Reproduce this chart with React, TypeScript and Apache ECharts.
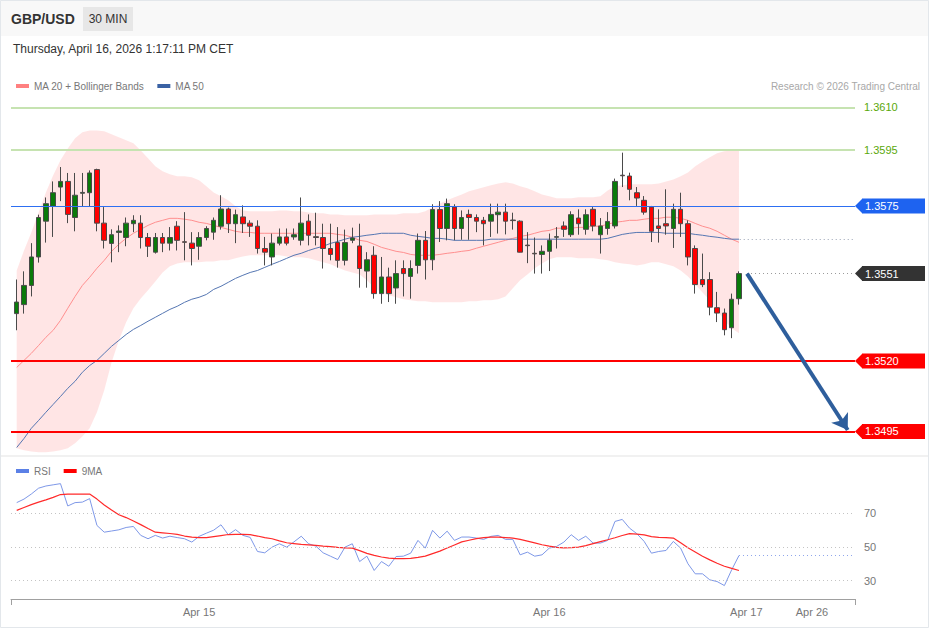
import React, { useEffect, useRef } from "react";
import * as echarts from "echarts";

const FONT = "'Liberation Sans', Arial, sans-serif";

// ---- data ----
// 30-minute candles [open, close, low, high], index 0 = Apr 14 11:30, index 99 = Apr 16 13:00
const candles: number[][] = [
  [1.35368, 1.35409, 1.35309, 1.35489],
  [1.35400, 1.35468, 1.35368, 1.35518],
  [1.35468, 1.35569, 1.35429, 1.35618],
  [1.35569, 1.35709, 1.35549, 1.35719],
  [1.35696, 1.35758, 1.35620, 1.35780],
  [1.35749, 1.35797, 1.35640, 1.35837],
  [1.35817, 1.35837, 1.35767, 1.35888],
  [1.35837, 1.35720, 1.35689, 1.35867],
  [1.35709, 1.35788, 1.35660, 1.35867],
  [1.35795, 1.35798, 1.35749, 1.35867],
  [1.35797, 1.35867, 1.35749, 1.35876],
  [1.35879, 1.35689, 1.35660, 1.35882],
  [1.35689, 1.35628, 1.35599, 1.35746],
  [1.35617, 1.35648, 1.35550, 1.35667],
  [1.35656, 1.35661, 1.35586, 1.35681],
  [1.35638, 1.35689, 1.35607, 1.35709],
  [1.35687, 1.35699, 1.35657, 1.35717],
  [1.35689, 1.35638, 1.35599, 1.35717],
  [1.35638, 1.35607, 1.35569, 1.35654],
  [1.35586, 1.35638, 1.35581, 1.35654],
  [1.35638, 1.35618, 1.35586, 1.35654],
  [1.35618, 1.35638, 1.35592, 1.35675],
  [1.35678, 1.35628, 1.35592, 1.35696],
  [1.35623, 1.35621, 1.35557, 1.35728],
  [1.35618, 1.35599, 1.35539, 1.35657],
  [1.35607, 1.35638, 1.35559, 1.35657],
  [1.35638, 1.35670, 1.35628, 1.35678],
  [1.35657, 1.35699, 1.35630, 1.35709],
  [1.35678, 1.35739, 1.35666, 1.35788],
  [1.35739, 1.35687, 1.35654, 1.35744],
  [1.35687, 1.35719, 1.35618, 1.35737],
  [1.35711, 1.35687, 1.35654, 1.35752],
  [1.35689, 1.35678, 1.35640, 1.35699],
  [1.35678, 1.35599, 1.35581, 1.35699],
  [1.35599, 1.35586, 1.35539, 1.35640],
  [1.35569, 1.35618, 1.35539, 1.35652],
  [1.35618, 1.35640, 1.35610, 1.35670],
  [1.35640, 1.35618, 1.35610, 1.35670],
  [1.35640, 1.35648, 1.35630, 1.35670],
  [1.35628, 1.35689, 1.35610, 1.35780],
  [1.35696, 1.35646, 1.35610, 1.35720],
  [1.35641, 1.35638, 1.35610, 1.35726],
  [1.35638, 1.35599, 1.35528, 1.35687],
  [1.35599, 1.35578, 1.35557, 1.35687],
  [1.35620, 1.35557, 1.35531, 1.35675],
  [1.35557, 1.35620, 1.35539, 1.35666],
  [1.35628, 1.35636, 1.35618, 1.35673],
  [1.35608, 1.35528, 1.35460, 1.35687],
  [1.35519, 1.35559, 1.35460, 1.35586],
  [1.35575, 1.35439, 1.35421, 1.35607],
  [1.35439, 1.35498, 1.35403, 1.35569],
  [1.35498, 1.35439, 1.35409, 1.35531],
  [1.35459, 1.35510, 1.35403, 1.35557],
  [1.35528, 1.35510, 1.35429, 1.35557],
  [1.35500, 1.35528, 1.35421, 1.35557],
  [1.35539, 1.35628, 1.35510, 1.35652],
  [1.35628, 1.35559, 1.35489, 1.35661],
  [1.35559, 1.35737, 1.35522, 1.35756],
  [1.35737, 1.35670, 1.35622, 1.35767],
  [1.35670, 1.35758, 1.35628, 1.35776],
  [1.35746, 1.35670, 1.35628, 1.35756],
  [1.35670, 1.35709, 1.35630, 1.35734],
  [1.35720, 1.35709, 1.35630, 1.35737],
  [1.35709, 1.35696, 1.35657, 1.35720],
  [1.35699, 1.35687, 1.35610, 1.35711],
  [1.35696, 1.35720, 1.35640, 1.35758],
  [1.35719, 1.35728, 1.35652, 1.35758],
  [1.35728, 1.35696, 1.35649, 1.35758],
  [1.35700, 1.35698, 1.35666, 1.35726],
  [1.35696, 1.35586, 1.35585, 1.35699],
  [1.35611, 1.35609, 1.35547, 1.35657],
  [1.35582, 1.35580, 1.35510, 1.35638],
  [1.35578, 1.35589, 1.35510, 1.35610],
  [1.35589, 1.35628, 1.35519, 1.35652],
  [1.35639, 1.35641, 1.35599, 1.35675],
  [1.35679, 1.35667, 1.35640, 1.35695],
  [1.35648, 1.35719, 1.35640, 1.35731],
  [1.35707, 1.35687, 1.35648, 1.35738],
  [1.35667, 1.35719, 1.35648, 1.35738],
  [1.35738, 1.35679, 1.35660, 1.35746],
  [1.35648, 1.35679, 1.35581, 1.35707],
  [1.35670, 1.35695, 1.35648, 1.35728],
  [1.35679, 1.35837, 1.35670, 1.35847],
  [1.35859, 1.35857, 1.35817, 1.35939],
  [1.35856, 1.35809, 1.35770, 1.35868],
  [1.35797, 1.35778, 1.35750, 1.35817],
  [1.35770, 1.35728, 1.35719, 1.35785],
  [1.35746, 1.35660, 1.35622, 1.35750],
  [1.35679, 1.35670, 1.35620, 1.35738],
  [1.35687, 1.35679, 1.35648, 1.35809],
  [1.35670, 1.35738, 1.35601, 1.35758],
  [1.35738, 1.35687, 1.35640, 1.35797],
  [1.35687, 1.35569, 1.35539, 1.35699],
  [1.35599, 1.35471, 1.35439, 1.35610],
  [1.35489, 1.35471, 1.35462, 1.35581],
  [1.35489, 1.35391, 1.35362, 1.35515],
  [1.35389, 1.35370, 1.35338, 1.35445],
  [1.35370, 1.35311, 1.35291, 1.35386],
  [1.35318, 1.35419, 1.35281, 1.35439],
  [1.35421, 1.35510, 1.35400, 1.35518],
];

const bbUpper = [
  1.35521, 1.35592, 1.35656, 1.35727, 1.35798, 1.35859, 1.35912, 1.35954, 1.3599, 1.36011,
  1.36018, 1.36018, 1.36015, 1.36004, 1.35994, 1.35983, 1.35972, 1.35947, 1.35919, 1.35891,
  1.35873, 1.35862, 1.35855, 1.35855, 1.35852, 1.35841, 1.3582, 1.35798, 1.35784, 1.3577,
  1.35749, 1.35734, 1.35731, 1.35731, 1.35731, 1.35731, 1.35734, 1.35734, 1.35731, 1.35731,
  1.35727, 1.35724, 1.35724, 1.3572, 1.3572, 1.35717, 1.35717, 1.35717, 1.35717, 1.3572,
  1.3572, 1.3572, 1.3572, 1.35724, 1.35724, 1.35724, 1.35731, 1.35745, 1.35759, 1.3577,
  1.35781, 1.35791, 1.35802, 1.35809, 1.35816, 1.35823, 1.3583, 1.35834, 1.3583, 1.3582,
  1.35813, 1.35802, 1.35791, 1.35784, 1.35777, 1.35777, 1.35777, 1.35781, 1.35781, 1.35781,
  1.35784, 1.35805, 1.3582, 1.35823, 1.35827, 1.35827, 1.35827, 1.35827, 1.3583, 1.35837,
  1.35844, 1.35855, 1.35869, 1.35891, 1.35908, 1.35923, 1.35937, 1.35944, 1.35947, 1.35947,
];

const bbLower = [
  1.3489, 1.34883, 1.34879, 1.34876, 1.34876, 1.34879, 1.34883, 1.3489, 1.34908, 1.34932,
  1.34961, 1.35018, 1.35096, 1.35195, 1.35273, 1.35337, 1.35387, 1.35422, 1.35451, 1.35482,
  1.35514, 1.35536, 1.35546, 1.3555, 1.3555, 1.3555, 1.35553, 1.35553, 1.35557, 1.35557,
  1.35564, 1.35571, 1.35575, 1.35575, 1.35575, 1.35575, 1.35575, 1.35571, 1.35568, 1.35568,
  1.35564, 1.35557, 1.3555, 1.35543, 1.35532, 1.35521, 1.35514, 1.35507, 1.35486, 1.35461,
  1.35443, 1.35433, 1.35426, 1.35419, 1.35415, 1.35412, 1.35412, 1.35408, 1.35408, 1.35408,
  1.35408, 1.35408, 1.35412, 1.35412, 1.35415, 1.35415, 1.35419, 1.35429, 1.35458, 1.35486,
  1.35507, 1.35529, 1.35546, 1.35561, 1.35568, 1.35568, 1.35568, 1.35564, 1.35564, 1.35564,
  1.35561, 1.35557, 1.3555, 1.35546, 1.35543, 1.35539, 1.35543, 1.3555, 1.3555, 1.35543,
  1.35536, 1.35521, 1.355, 1.35472, 1.35443, 1.35415, 1.3538, 1.35344, 1.35316, 1.35298,
];

const ma20 = [
  1.35177, 1.35202, 1.35227, 1.35255, 1.35284, 1.35309, 1.35344, 1.35387, 1.35429, 1.35468,
  1.35497, 1.35529, 1.35557, 1.35589, 1.35614, 1.35635, 1.35653, 1.35667, 1.35681, 1.35692,
  1.35699, 1.35706, 1.35706, 1.35703, 1.35699, 1.35692, 1.35688, 1.35681, 1.35674, 1.35667,
  1.3566, 1.35656, 1.35656, 1.35653, 1.35653, 1.35653, 1.35653, 1.35653, 1.35653, 1.35653,
  1.35653, 1.35653, 1.35653, 1.35653, 1.35649, 1.35646, 1.35639, 1.35628, 1.35624, 1.35614,
  1.35603, 1.35596, 1.35589, 1.35585, 1.35578, 1.35575, 1.35575, 1.35575, 1.35578, 1.35582,
  1.35585, 1.35589, 1.35592, 1.356, 1.35607, 1.35614, 1.35621, 1.35628, 1.35635, 1.35642,
  1.35646, 1.35653, 1.3566, 1.35663, 1.35671, 1.35671, 1.35671, 1.35674, 1.35674, 1.35678,
  1.35678, 1.35685, 1.35692, 1.35695, 1.35699, 1.35699, 1.35703, 1.35706, 1.35706, 1.3571,
  1.3571, 1.35706, 1.35699, 1.35688, 1.35678, 1.35671, 1.3566, 1.35646, 1.35632, 1.35621,
];

const ma50 = [
  1.34893, 1.34925, 1.34961, 1.34989, 1.35018, 1.35046, 1.35074, 1.35103, 1.35128, 1.3516,
  1.35184, 1.35202, 1.35227, 1.35252, 1.35273, 1.35294, 1.35312, 1.35326, 1.35341, 1.35355,
  1.35369, 1.35383, 1.35394, 1.35408, 1.35419, 1.35426, 1.35436, 1.35454, 1.35465, 1.35479,
  1.35493, 1.35504, 1.35514, 1.35521, 1.35532, 1.35543, 1.35553, 1.35564, 1.35575, 1.35582,
  1.35592, 1.356, 1.35607, 1.35617, 1.35624, 1.35632, 1.35639, 1.35642, 1.35646, 1.35649,
  1.35653, 1.35653, 1.35653, 1.35653, 1.35646, 1.35642, 1.35639, 1.35635, 1.35635, 1.35632,
  1.35628, 1.35628, 1.35628, 1.35628, 1.35628, 1.35632, 1.35632, 1.35632, 1.35632, 1.35632,
  1.35632, 1.35632, 1.35632, 1.35632, 1.35632, 1.35632, 1.35632, 1.35632, 1.35632, 1.35632,
  1.35632, 1.35635, 1.35642, 1.35649, 1.35653, 1.35656, 1.35656, 1.35656, 1.35656, 1.35653,
  1.35653, 1.35653, 1.35653, 1.35649, 1.35646, 1.35642, 1.35639, 1.35635, 1.35632, 1.35632,
];

const rsi = [
  76.4, 78.5, 81.5, 85, 86.3, 87, 87.7, 74.4, 76.4, 76.7,
  78.8, 62.8, 58.8, 59.5, 60.2, 61.6, 62.2, 56.9, 54.9, 56.9,
  55.3, 56.4, 55.6, 54.9, 52.9, 56.3, 58.2, 60, 63.2, 57.3,
  60.3, 56.9, 55.7, 47.3, 46.5, 49.9, 51.9, 49.9, 53, 56.4,
  51.9, 50.5, 46.5, 44.5, 42.5, 49.9, 51.9, 41.3, 44.5, 36,
  41.3, 38.5, 44.3, 44.5, 46.3, 53.9, 49.3, 59.9, 55.3, 59.4,
  53.9, 55.9, 55.9, 55.3, 54.5, 56.3, 56.9, 54.5, 54.5, 45.3,
  46.9, 44.5, 45.3, 49.3, 50.3, 52.9, 57.3, 53.9, 56.4, 52.3,
  52.3, 53.9, 65.2, 66.4, 61.2, 57.9, 53.3, 46.3, 47.3, 47.9,
  53.3, 49.3, 40, 34, 34, 30.4, 29.4, 27, 36.4, 44.9,
];

const rsiMa9 = [
  71.8, 73.5, 75.2, 76.7, 78, 79.5, 81.2, 81.5, 81.5, 81.5,
  81.5, 78.5, 75, 72, 69.2, 67.5, 65.5, 63.3, 61, 58.8,
  58.4, 58, 57.5, 56.5, 55.8, 55.5, 55.5, 56.2, 56.8, 57.4,
  57.5, 57.5, 57.3, 56.5, 55.6, 54.9, 53.6, 52.5, 52, 51.5,
  51.2, 50.9, 50.5, 50.2, 49.8, 49.5, 49.3, 47.8, 46.2, 45,
  44, 43.3, 43.1, 43, 43.2, 43.8, 44.5, 46, 47.5, 49.4,
  51.2, 53, 54, 55, 55.5, 55.8, 55.9, 55.6, 55.3, 54.5,
  53.5, 52.4, 51.3, 50.5, 49.8, 49.5, 49.6, 49.9, 50.8, 52,
  53.2, 54.3, 55.5, 56.8, 57.9, 57.6, 57.2, 56.2, 55.7, 55.5,
  55.3, 52.5, 49.5, 47, 44.5, 42.3, 40.3, 38.5, 37.2, 36,
];

const resistanceLevels = [1.361, 1.3595];
const resistanceLabels = ["1.3610", "1.3595"];
const pivotLevel = 1.3575;
const pivotLabel = "1.3575";
const lastPrice = 1.3551;
const lastPriceLabel = "1.3551";
const supportLevels = [1.352, 1.3495];
const supportLabels = ["1.3520", "1.3495"];
const targetPoint = [113.9, 1.34955];
const rsiLevels = [30, 50, 70];

const dateTicks = [25, 73, 100, 109];
const dateTickLabels = ["Apr 15", "Apr 16", "Apr 17", "Apr 26"];

const XMIN = -0.781;
const XMAX = 114.9;

export default function App() {
  const ref = useRef<HTMLDivElement>(null);

  useEffect(() => {
    if (!ref.current) return;
    const chart = echarts.init(ref.current, null, { renderer: "svg" });

    const tagLabel = (text: string, bg: string) => ({
      show: true,
      position: "end",
      distance: 7,
      formatter: text,
      color: "#fff",
      backgroundColor: bg,
      padding: [2, 4, 1, 3],
      width: 56,
      lineHeight: 12,
      fontSize: 11,
      fontFamily: FONT,
    });
    const greenLabel = (text: string) => ({
      show: true,
      position: "end",
      distance: 9,
      formatter: text,
      color: "#5aa80a",
      fontSize: 11,
      fontFamily: FONT,
    });
    const hLine = (v: number, color: string, width: number, label: any) => [
      { coord: [XMIN, v], lineStyle: { color, width, type: "solid" }, label },
      { coord: [XMAX, v], lineStyle: { color, width, type: "solid" }, label },
    ];
    const tri = "path://M0,7L7,0L7,14Z";

    const candleData = candles.map((c, i) => [i, c[0], c[1], c[2], c[3]]);
    const lastIdx = candles.length - 1;

    const option: any = {
      animation: false,
      textStyle: { fontFamily: FONT },
      graphic: [
        { type: "rect", silent: true, z: -10, shape: { x: 0, y: 0, width: 929, height: 36 }, style: { fill: "#f8f8f8" } },
        { type: "rect", silent: true, z: -9, shape: { x: 0, y: 455, width: 929, height: 2 }, style: { fill: "#f1f1f1" } },
        { type: "rect", silent: true, z: -8, shape: { x: 0.5, y: 0.5, width: 928, height: 627 }, style: { fill: "none", stroke: "#e3e7eb", lineWidth: 1 } },
        { type: "rect", silent: true, shape: { x: 83, y: 7, width: 50, height: 24 }, style: { fill: "#e7e7e7" } },
        { type: "text", silent: true, x: 108, y: 19, style: { text: "30 MIN", fill: "#333", fontSize: 12, fontFamily: FONT, align: "center", verticalAlign: "middle" } },
        { type: "text", silent: true, x: 11, y: 19, style: { text: "GBP/USD", fill: "#333", fontSize: 14, fontWeight: "bold", fontFamily: FONT, align: "left", verticalAlign: "middle" } },
        { type: "text", silent: true, x: 13, y: 49, style: { text: "Thursday, April 16, 2026 1:17:11 PM CET", fill: "#333", fontSize: 12, fontFamily: FONT, align: "left", verticalAlign: "middle" } },
        { type: "text", silent: true, x: 920, y: 86, style: { text: "Research © 2026 Trading Central", fill: "#a8a8a8", fontSize: 10, fontFamily: FONT, align: "right", verticalAlign: "middle" } },
      ],
      legend: [
        {
          left: 11, top: 76, icon: "rect", itemWidth: 13, itemHeight: 4, itemGap: 13, selectedMode: false,
          textStyle: { color: "#777", fontSize: 10, fontFamily: FONT },
          data: [
            { name: "MA 20 + Bollinger Bands", itemStyle: { color: "#ff8080" } },
            { name: "MA 50", itemStyle: { color: "#3a62a4" } },
          ],
        },
        {
          left: 11, top: 461, icon: "rect", itemWidth: 13, itemHeight: 4, itemGap: 13, selectedMode: false,
          textStyle: { color: "#777", fontSize: 10, fontFamily: FONT },
          data: [
            { name: "RSI", itemStyle: { color: "#5b80e6" } },
            { name: "9MA", itemStyle: { color: "#ff0000" } },
          ],
        },
      ],
      grid: [
        { left: 11, top: 96, width: 844, height: 358 },
        { left: 11, top: 463, width: 844, height: 136 },
      ],
      xAxis: [
        { gridIndex: 0, type: "value", min: XMIN, max: XMAX, show: false },
        {
          gridIndex: 1, type: "value", min: XMIN, max: XMAX,
          axisLine: { show: true, lineStyle: { color: "#a0a0a0", width: 1 } },
          axisTick: { show: true, customValues: [XMIN, XMAX], length: 6, lineStyle: { color: "#a0a0a0" } },
          axisLabel: {
            customValues: dateTicks,
            formatter: (v: number) => {
              const k = dateTicks.indexOf(Math.round(v));
              return k >= 0 ? dateTickLabels[k] : "";
            },
            color: "#777", fontSize: 11, margin: 7, fontFamily: FONT,
          },
          splitLine: { show: false },
        },
      ],
      yAxis: [
        { gridIndex: 0, type: "value", min: 1.3487, max: 1.3614, show: false },
        {
          gridIndex: 1, type: "value", min: 19, max: 100, position: "right",
          axisLine: { show: false }, axisTick: { show: false }, splitLine: { show: false },
          axisLabel: { customValues: rsiLevels, color: "#777", fontSize: 11, margin: 9, fontFamily: FONT },
        },
      ],
      series: [
        {
          type: "custom",
          name: "bands",
          xAxisIndex: 0, yAxisIndex: 0,
          silent: true,
          z: 1,
          data: [[0, bbUpper[0]]],
          renderItem: (params: any, api: any) => {
            const pts: number[][] = [];
            for (let i = 0; i < bbUpper.length; i++) pts.push(api.coord([i, bbUpper[i]]));
            for (let i = bbLower.length - 1; i >= 0; i--) pts.push(api.coord([i, bbLower[i]]));
            return { type: "polygon", shape: { points: pts }, style: { fill: "rgba(255,0,0,0.1)" } };
          },
        },
        {
          type: "line", name: "MA 20 + Bollinger Bands", xAxisIndex: 0, yAxisIndex: 0, z: 2,
          showSymbol: false, silent: true,
          data: ma20.map((v, i) => [i, v]),
          itemStyle: { color: "#ff8080" },
          lineStyle: { color: "#ff8f8f", width: 1 },
        },
        {
          type: "line", name: "MA 50", xAxisIndex: 0, yAxisIndex: 0, z: 2,
          showSymbol: false, silent: true,
          data: ma50.map((v, i) => [i, v]),
          itemStyle: { color: "#3a62a4" },
          lineStyle: { color: "#5576b2", width: 1 },
        },
        {
          type: "candlestick", name: "GBP/USD", xAxisIndex: 0, yAxisIndex: 0, z: 3,
          barWidth: 5,
          encode: { x: 0, y: [1, 2, 3, 4] },
          data: candleData,
          itemStyle: { color: "#0a7a0a", color0: "#ff0000", borderColor: "#4a4a4a", borderColor0: "#4a4a4a", borderWidth: 1 },
        },
        {
          type: "line", name: "levels", xAxisIndex: 0, yAxisIndex: 0, z: 4,
          clip: false, silent: true, showSymbol: false,
          data: [[lastIdx, lastPrice]],
          lineStyle: { opacity: 0 },
          markLine: {
            silent: true,
            symbol: ["none", "none"],
            animation: false,
            data: [
              ...resistanceLevels.map((v, k) => hLine(v, "#c6e3b1", 2, greenLabel(resistanceLabels[k]))),
              hLine(pivotLevel, "#2d6ff2", 1, tagLabel(pivotLabel, "#1e63f0")),
              ...supportLevels.map((v, k) => hLine(v, "#ff0000", 2, tagLabel(supportLabels[k], "#ff0000"))),
              [
                { coord: [lastIdx + 1.1, lastPrice], lineStyle: { color: "#9a9a9a", width: 1, type: [1, 3] }, label: tagLabel(lastPriceLabel, "#333333") },
                { coord: [XMAX, lastPrice], lineStyle: { color: "#9a9a9a", width: 1, type: [1, 3] }, label: tagLabel(lastPriceLabel, "#333333") },
              ],
              [
                { coord: [lastIdx + 0.1, ma50[lastIdx]], lineStyle: { color: "#9aa3b5", width: 1, type: [1, 3] }, label: { show: false } },
                { coord: [XMAX, ma50[lastIdx]], lineStyle: { color: "#9aa3b5", width: 1, type: [1, 3] }, label: { show: false } },
              ],
              [
                { coord: [lastIdx + 1.1, lastPrice], symbol: "none", lineStyle: { color: "#2e5e9c", width: 4, type: "solid" }, label: { show: false } },
                { coord: targetPoint, symbol: "arrow", symbolSize: 15, lineStyle: { color: "#2e5e9c", width: 4, type: "solid" }, label: { show: false } },
              ],
            ],
          },
          markPoint: {
            silent: true,
            symbol: tri,
            symbolSize: [7, 14],
            symbolOffset: [3.5, 0],
            label: { show: false },
            data: [
              { coord: [XMAX, pivotLevel], itemStyle: { color: "#1e63f0" } },
              { coord: [XMAX, lastPrice], itemStyle: { color: "#333333" } },
              { coord: [XMAX, supportLevels[0]], itemStyle: { color: "#ff0000" } },
              { coord: [XMAX, supportLevels[1]], itemStyle: { color: "#ff0000" } },
            ],
          },
        },
        {
          type: "line", name: "RSI", xAxisIndex: 1, yAxisIndex: 1, z: 3,
          showSymbol: false, silent: true, clip: false,
          data: rsi.map((v, i) => [i, v]),
          itemStyle: { color: "#5b80e6" },
          lineStyle: { color: "#7e98e8", width: 1 },
          markLine: {
            silent: true,
            symbol: ["none", "none"],
            label: { show: false },
            data: [
              ...rsiLevels.map((v) => [
                { coord: [XMIN, v], lineStyle: { color: "#c4c4c4", width: 1, type: [1, 3] } },
                { coord: [XMAX, v], lineStyle: { color: "#c4c4c4", width: 1, type: [1, 3] } },
              ]),
              [
                { coord: [lastIdx, rsi[lastIdx]], lineStyle: { color: "#8ea5ec", width: 1, type: [1, 3] } },
                { coord: [XMAX, rsi[lastIdx]], lineStyle: { color: "#8ea5ec", width: 1, type: [1, 3] } },
              ],
            ],
          },
        },
        {
          type: "line", name: "9MA", xAxisIndex: 1, yAxisIndex: 1, z: 4,
          showSymbol: false, silent: true,
          data: rsiMa9.map((v, i) => [i, v]),
          itemStyle: { color: "#ff0000" },
          lineStyle: { color: "#ff2a2a", width: 1.2 },
        },
      ],
    };

    chart.setOption(option);
    return () => chart.dispose();
  }, []);

  return (
    <div
      ref={ref}
      style={{ position: "absolute", left: 0, top: 0, width: 929, height: 629, background: "#ffffff" }}
    />
  );
}
